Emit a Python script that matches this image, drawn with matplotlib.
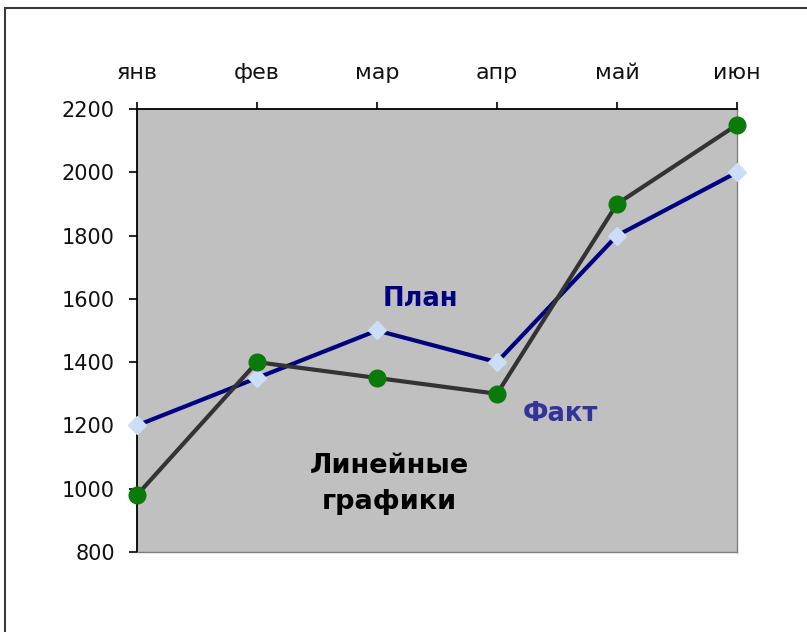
import matplotlib
matplotlib.use("Agg")
import matplotlib.pyplot as plt
from matplotlib.patches import Rectangle

months = ["янв", "фев", "мар", "апр", "май", "июн"]
plan = [1200, 1350, 1500, 1400, 1800, 2000]
fact = [980, 1400, 1350, 1300, 1900, 2150]
y_ticks = [800, 1000, 1200, 1400, 1600, 1800, 2000, 2200]

plt.rcParams['font.family'] = ['DejaVu Sans']

W, H = 807, 632
fig = plt.figure(figsize=(W / 100, H / 100), dpi=100)
fig.patch.set_facecolor("white")

# outer frame
fig.patches.append(Rectangle((5 / W, 0 - 0.01), 1.0, 1 - 8 / H + 0.01,
                             transform=fig.transFigure, fill=False,
                             edgecolor="#3a3a3a", linewidth=1.5))

L, R, T, B = 137, 737, 109, 552
ax = fig.add_axes([L / W, 1 - B / H, (R - L) / W, (B - T) / H])
ax.set_facecolor("#C0C0C0")

x = list(range(len(months)))
ax.plot(x, plan, color="#000080", linewidth=3, marker="D", markersize=9,
        markerfacecolor="#CCDDF8", markeredgecolor="#CCDDF8", clip_on=False, zorder=3)
ax.plot(x, fact, color="#333333", linewidth=3, marker="o", markersize=12,
        markerfacecolor="#0A7A0A", markeredgecolor="#0A7A0A", clip_on=False, zorder=4)

ax.set_xlim(0, len(months) - 1)
ax.set_ylim(800, 2200)
ax.set_yticks(y_ticks)
ax.set_yticklabels([str(v) for v in y_ticks], fontsize=15, color="#111111")
ax.set_xticks(x)
ax.set_xticklabels(months, fontsize=16, color="#111111")
ax.xaxis.tick_top()
ax.tick_params(axis="y", direction="out", length=6, width=1.2, pad=10)
ax.tick_params(axis="x", direction="out", length=5, width=1.2, pad=14)

for s in ["left", "top"]:
    ax.spines[s].set_color("black")
    ax.spines[s].set_linewidth(1.3)
for s in ["right", "bottom"]:
    ax.spines[s].set_color("#808080")
    ax.spines[s].set_linewidth(1.0)

ax.text(0.473, 0.571, "План", transform=ax.transAxes, ha="center", va="center",
        fontsize=18.5, fontweight="bold", color="#000080")
ax.text(0.705, 0.311, "Факт", transform=ax.transAxes, ha="center", va="center",
        fontsize=18.5, fontweight="bold", color="#333399")
ax.text(0.42, 0.153, "Линейные\nграфики", transform=ax.transAxes, ha="center",
        va="center", fontsize=19.5, fontweight="bold", color="black", linespacing=1.5)

fig.savefig("out.png", dpi=100)
